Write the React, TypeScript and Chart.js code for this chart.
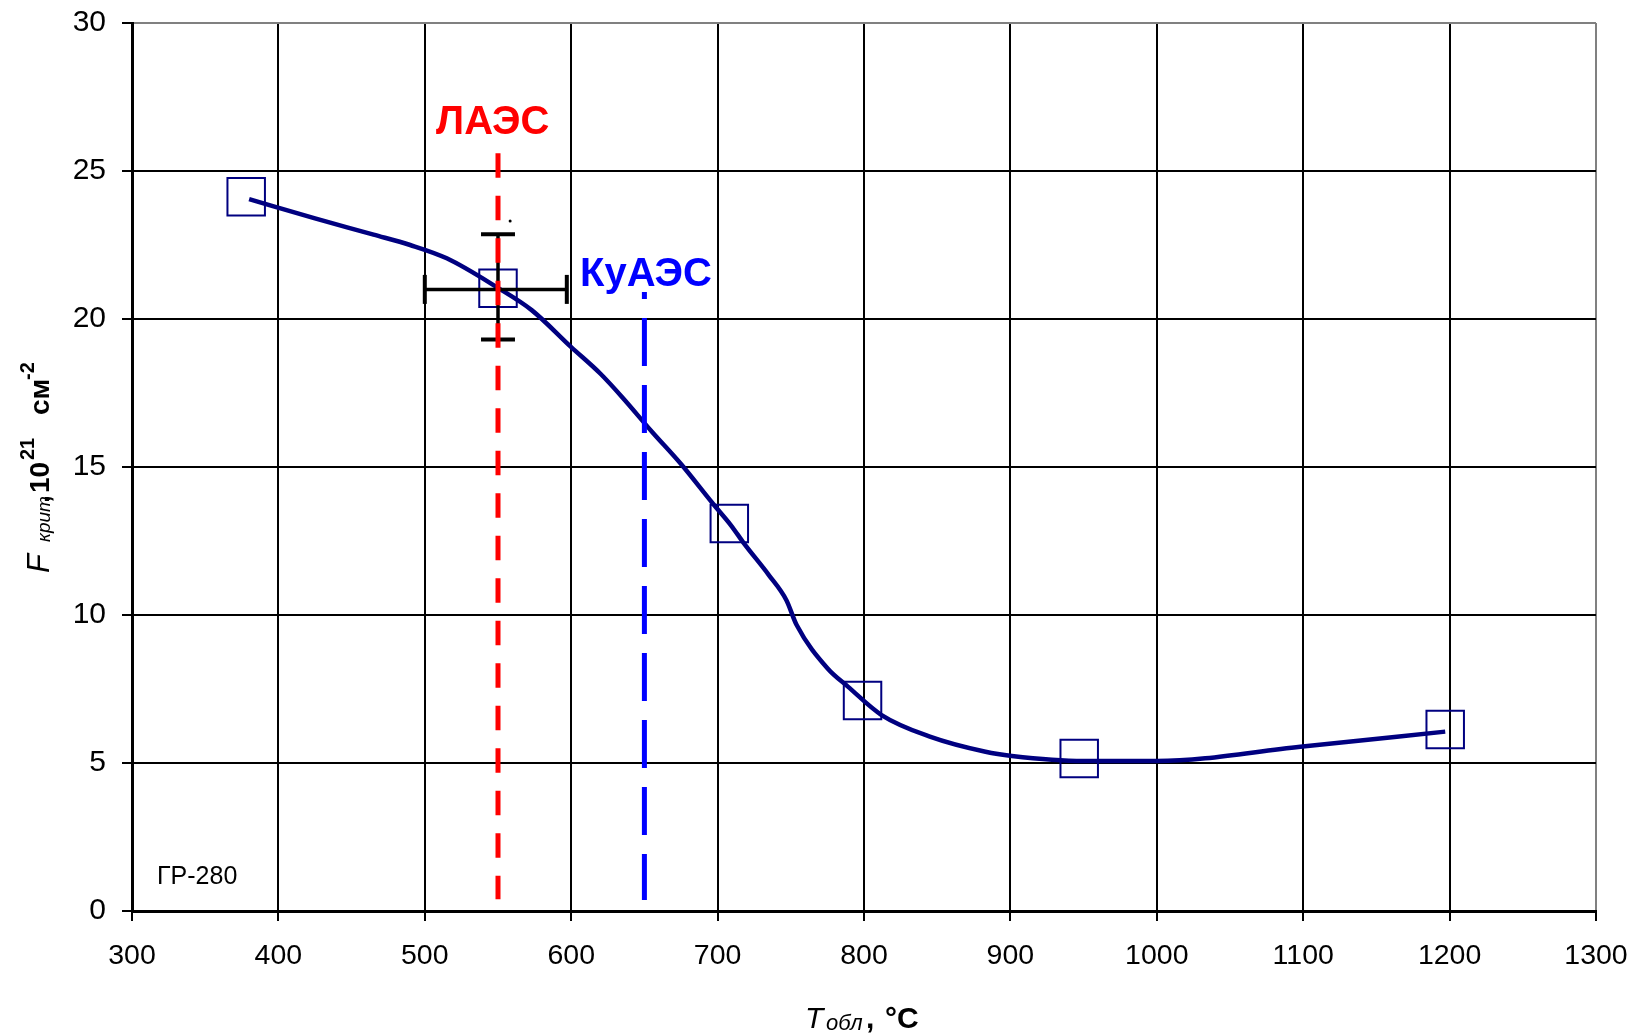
import React, { useEffect, useRef } from 'react';
import { Chart, registerables } from 'chart.js';

Chart.register(...registerables);

const FONT = '"Liberation Sans", Arial, Helvetica, sans-serif';

// Axis ranges / ticks
const xMin = 300;
const xMax = 1300;
const xStep = 100;
const yMin = 0;
const yMax = 30;
const yStep = 5;

// Measured points (open squares)
const markerT = [378, 550, 708, 799, 947, 1197];
const markerF = [24.13, 21.04, 13.09, 7.11, 5.15, 6.13];

// Smoothed curve
const curveT = [380, 425, 465, 490, 515, 550, 573, 600, 620, 635, 655, 675, 697, 709, 718, 735, 747, 754, 775, 789, 812, 845, 883, 901, 950, 1000, 1098, 1197];
const curveF = [24.05, 23.4, 22.85, 22.5, 22.05, 21.05, 20.3, 19.05, 18.15, 17.35, 16.2, 15.1, 13.75, 13.04, 12.42, 11.35, 10.5, 9.66, 8.2, 7.58, 6.62, 5.89, 5.38, 5.24, 5.07, 5.07, 5.55, 6.06];

// Error bar of the ЛАЭС point
const errT = 550;
const errF = 21.0;
const errTRange = [500, 597];
const errFRange = [19.31, 22.86];
const errCapHalfT = 11.6;
const errCapHalfF = 0.49;

// Reference vertical lines
const laesT = 550;
const laesF = [25.6, 0.395];
const kuaesT = 650;
const kuaesF = [20.91, 0.37];

// Stray dot
const dotT = [558.3];
const dotF = [23.31];

// Annotation anchors (data coordinates)
const laesLabel = { text: 'ЛАЭС', t: 507.7, f: 26.25 };
const kuaesLabel = { text: 'КуАЭС', t: 606, f: 21.11 };
const grLabel = { text: 'ГР-280', t: 317.1, f: 0.91 };

const NAVY = '#000080';

function seg(x1: number, y1: number, x2: number, y2: number) {
  return [{ x: x1, y: y1 }, { x: x2, y: y2 }];
}

function lineDs(data: any[], color: string, width: number, order: number, dash?: number[], dashOffset?: number) {
  return {
    data,
    showLine: true,
    borderColor: color,
    backgroundColor: color,
    borderWidth: width,
    borderDash: dash || [],
    borderDashOffset: dashOffset || 0,
    pointRadius: 0,
    pointHoverRadius: 0,
    tension: 0,
    order,
  };
}

type Part = { text: string; font: string; at: number; dy?: number };

function drawParts(ctx: CanvasRenderingContext2D, parts: Part[], x: number, y: number) {
  for (const p of parts) {
    ctx.font = p.font;
    ctx.fillText(p.text, x + p.at, y + (p.dy || 0));
  }
}

const textPlugin = {
  id: 'texts',
  afterDraw(chart: any) {
    const ctx: CanvasRenderingContext2D = chart.ctx;
    const xs = chart.scales.x;
    const ys = chart.scales.y;
    ctx.save();
    ctx.textBaseline = 'alphabetic';
    ctx.textAlign = 'left';

    ctx.fillStyle = '#FF0000';
    ctx.font = `bold 40px ${FONT}`;
    ctx.fillText(laesLabel.text, xs.getPixelForValue(laesLabel.t), ys.getPixelForValue(laesLabel.f));

    ctx.fillStyle = '#0000FF';
    ctx.fillText(kuaesLabel.text, xs.getPixelForValue(kuaesLabel.t), ys.getPixelForValue(kuaesLabel.f));

    ctx.fillStyle = '#000';
    ctx.font = `25px ${FONT}`;
    ctx.fillText(grLabel.text, xs.getPixelForValue(grLabel.t), ys.getPixelForValue(grLabel.f));

    // X axis title: T обл, °C
    drawParts(ctx, [
      { text: 'T', font: `italic 30px ${FONT}`, at: 0 },
      { text: 'обл', font: `italic 22px ${FONT}`, at: 21, dy: 2 },
      { text: ',', font: `bold 30px ${FONT}`, at: 61 },
      { text: '°C', font: `bold 30px ${FONT}`, at: 80 },
    ], 805, 1028);

    // Y axis title: F крит, 10^21 см^-2 (rotated)
    ctx.translate(49, 573);
    ctx.rotate(-Math.PI / 2);
    drawParts(ctx, [
      { text: 'F', font: `italic 31px ${FONT}`, at: 0 },
      { text: 'крит', font: `italic 19px ${FONT}`, at: 31, dy: 1 },
      { text: ',', font: `bold 28px ${FONT}`, at: 70 },
      { text: '10', font: `bold 28px ${FONT}`, at: 80 },
      { text: '21', font: `bold 20px ${FONT}`, at: 113, dy: -15 },
      { text: 'см', font: `bold 28px ${FONT}`, at: 158 },
      { text: '-2', font: `bold 20px ${FONT}`, at: 193, dy: -15 },
    ], 0, 0);
    ctx.restore();
  },
};

const noPad = (s: any) => {
  s.paddingTop = 0;
  s.paddingBottom = 0;
  s.paddingLeft = 0;
  s.paddingRight = 0;
};

export default function App() {
  const ref = useRef<HTMLCanvasElement | null>(null);

  useEffect(() => {
    if (!ref.current) return;
    const datasets: any[] = [
      lineDs(seg(laesT, laesF[0], laesT, laesF[1]), '#FF0000', 5, 0, [24.5, 18]),
      lineDs(seg(kuaesT, kuaesF[0], kuaesT, kuaesF[1]), '#0000FF', 5, 0, [48, 19], 41),
      lineDs(seg(errTRange[0], errF, errTRange[1], errF), '#000', 3.5, 1),
      lineDs(seg(errT, errFRange[0], errT, errFRange[1]), '#000', 3.5, 1),
      lineDs(seg(errTRange[0], errF - errCapHalfF, errTRange[0], errF + errCapHalfF), '#000', 4, 1),
      lineDs(seg(errTRange[1], errF - errCapHalfF, errTRange[1], errF + errCapHalfF), '#000', 4, 1),
      lineDs(seg(errT - errCapHalfT, errFRange[0], errT + errCapHalfT, errFRange[0]), '#000', 4, 1),
      lineDs(seg(errT - errCapHalfT, errFRange[1], errT + errCapHalfT, errFRange[1]), '#000', 4, 1),
      {
        data: dotT.map((t, i) => ({ x: t, y: dotF[i] })),
        showLine: false,
        pointRadius: 1.5,
        pointBackgroundColor: '#000',
        pointBorderWidth: 0,
        order: 1,
      },
      {
        ...lineDs(curveT.map((t, i) => ({ x: t, y: curveF[i] })), NAVY, 4.5, 2),
        cubicInterpolationMode: 'monotone',
      },
      {
        data: markerT.map((t, i) => ({ x: t, y: markerF[i] })),
        showLine: false,
        pointStyle: 'rect',
        pointRadius: 26.5,
        pointHoverRadius: 26.5,
        pointBorderColor: NAVY,
        pointBackgroundColor: 'rgba(0,0,0,0)',
        pointBorderWidth: 2,
        order: 3,
      },
    ];

    const chart = new Chart(ref.current, {
      type: 'scatter',
      data: { datasets },
      plugins: [textPlugin],
      options: {
        animation: false,
        responsive: false,
        devicePixelRatio: 1,
        layout: { autoPadding: false, padding: { top: 23, right: 36, left: 0, bottom: 0 } },
        plugins: { legend: { display: false }, tooltip: { enabled: false } },
        scales: {
          x: {
            type: 'linear',
            min: xMin,
            max: xMax,
            ticks: {
              stepSize: xStep,
              color: '#000',
              font: { family: FONT, size: 28.5 },
              padding: 18,
              maxRotation: 0,
              callback: (v: any) => String(v),
            },
            grid: {
              color: (c: any) => (c.tick && c.tick.value === xMax ? '#808080' : '#000'),
              tickColor: '#000',
              lineWidth: 2,
              tickLength: 10,
            },
            border: { color: '#000', width: 3 },
            afterFit: (s: any) => { s.height = 124; noPad(s); },
          },
          y: {
            type: 'linear',
            min: yMin,
            max: yMax,
            ticks: {
              stepSize: yStep,
              color: '#000',
              font: { family: FONT, size: 30 },
              padding: 16,
              callback: (v: any) => String(v),
            },
            grid: {
              color: (c: any) => (c.tick && c.tick.value === yMax ? '#808080' : '#000'),
              tickColor: '#000',
              lineWidth: 2,
              tickLength: 10,
            },
            border: { color: '#000', width: 3 },
            afterFit: (s: any) => { s.width = 132; noPad(s); },
          },
        },
      } as any,
    });
    return () => chart.destroy();
  }, []);

  return (
    <div style={{ position: 'fixed', left: 0, top: 0, width: 1632, height: 1035, background: '#fff' }}>
      <canvas ref={ref} width={1632} height={1035} style={{ display: 'block', width: 1632, height: 1035 }} />
    </div>
  );
}
